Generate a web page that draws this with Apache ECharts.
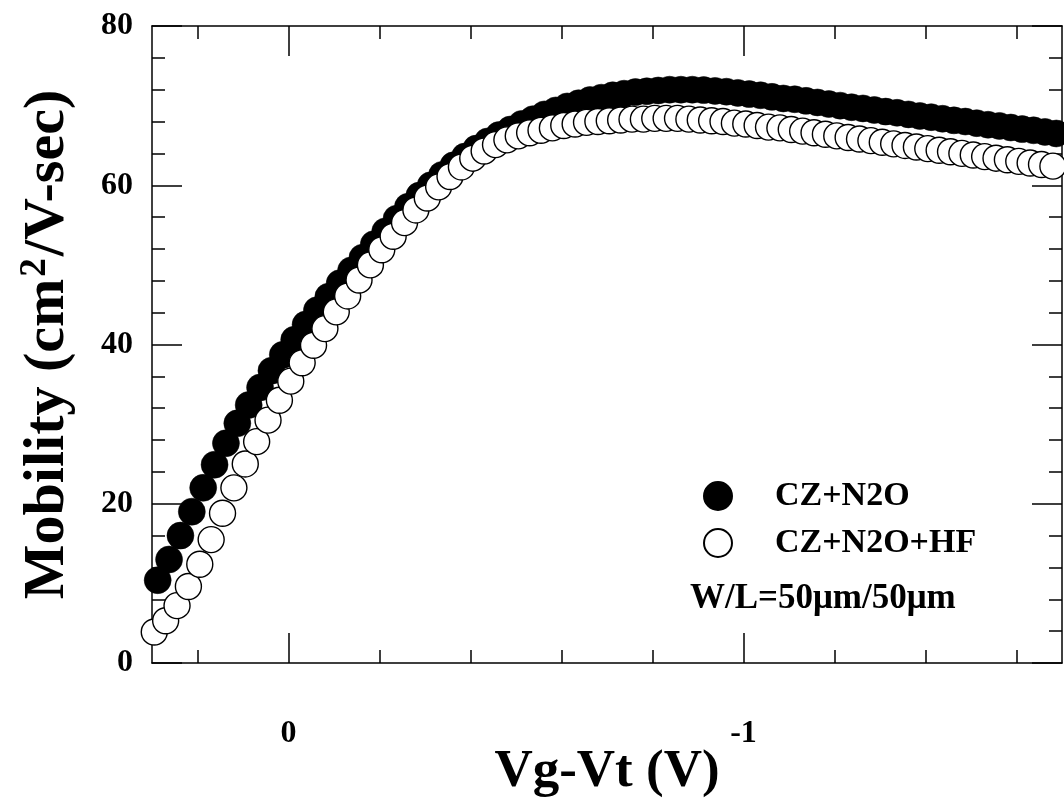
<!DOCTYPE html>
<html>
<head>
<meta charset="utf-8">
<script src="https://cdn.jsdelivr.net/npm/echarts@6/dist/echarts.min.js"></script>
<style>
  html, body { margin: 0; padding: 0; background: #fff; }
  #chart { width: 1064px; height: 809px; }
</style>
</head>
<body>
<div id="chart"></div>
<script>
// Gate overdrive Vg-Vt (V)
const vgFilled = [
  0.2875, 0.2625, 0.2375, 0.2125, 0.1875, 0.1625, 0.1375, 0.1125, 0.0875, 0.0625,
  0.0375, 0.0125, -0.0125, -0.0375, -0.0625, -0.0875, -0.1125, -0.1375, -0.1625, -0.1875,
  -0.2125, -0.2375, -0.2625, -0.2875, -0.3125, -0.3375, -0.3625, -0.3875, -0.4125, -0.4375,
  -0.4625, -0.4875, -0.5125, -0.5375, -0.5625, -0.5875, -0.6125, -0.6375, -0.6625, -0.6875,
  -0.7125, -0.7375, -0.7625, -0.7875, -0.8125, -0.8375, -0.8625, -0.8875, -0.9125, -0.9375,
  -0.9625, -0.9875, -1.0125, -1.0375, -1.0625, -1.0875, -1.1125, -1.1375, -1.1625, -1.1875,
  -1.2125, -1.2375, -1.2625, -1.2875, -1.3125, -1.3375, -1.3625, -1.3875, -1.4125, -1.4375,
  -1.4625, -1.4875, -1.5125, -1.5375, -1.5625, -1.5875, -1.6125, -1.6375, -1.6625, -1.6875
];
// Mobility, CZ+N2O (cm2/V-sec)
const muFilled = [
  10.4, 13.0, 16.0, 19.0, 22.0, 24.9, 27.6, 30.1, 32.4, 34.6,
  36.7, 38.7, 40.6, 42.5, 44.3, 46.0, 47.7, 49.3, 50.9, 52.6,
  54.2, 55.8, 57.3, 58.7, 60.0, 61.3, 62.5, 63.6, 64.6, 65.5,
  66.3, 67.0, 67.7, 68.3, 68.9, 69.4, 69.9, 70.3, 70.7, 71.0,
  71.3, 71.5, 71.7, 71.8, 71.9, 72.0, 72.0, 72.0, 71.95, 71.85,
  71.75, 71.6, 71.45, 71.3, 71.1, 70.9, 70.8, 70.6, 70.4, 70.2,
  70.0, 69.8, 69.65, 69.45, 69.25, 69.1, 68.9, 68.7, 68.55, 68.35,
  68.15, 68.0, 67.8, 67.6, 67.45, 67.25, 67.05, 66.9, 66.7, 66.5
];
const vgOpen = [
  0.295, 0.270, 0.245, 0.220, 0.195, 0.170, 0.145, 0.120, 0.095, 0.070,
  0.045, 0.020, -0.005, -0.030, -0.055, -0.080, -0.105, -0.130, -0.155, -0.180,
  -0.205, -0.230, -0.255, -0.280, -0.305, -0.330, -0.355, -0.380, -0.405, -0.430,
  -0.455, -0.480, -0.505, -0.530, -0.555, -0.580, -0.605, -0.630, -0.655, -0.680,
  -0.705, -0.730, -0.755, -0.780, -0.805, -0.830, -0.855, -0.880, -0.905, -0.930,
  -0.955, -0.980, -1.005, -1.030, -1.055, -1.080, -1.105, -1.130, -1.155, -1.180,
  -1.205, -1.230, -1.255, -1.280, -1.305, -1.330, -1.355, -1.380, -1.405, -1.430,
  -1.455, -1.480, -1.505, -1.530, -1.555, -1.580, -1.605, -1.630, -1.655, -1.680
];
// Mobility, CZ+N2O+HF (cm2/V-sec)
const muOpen = [
  3.9, 5.3, 7.2, 9.6, 12.4, 15.5, 18.8, 22.0, 25.0, 27.8,
  30.5, 33.0, 35.4, 37.7, 39.9, 42.0, 44.1, 46.1, 48.1, 50.0,
  51.9, 53.6, 55.3, 56.9, 58.4, 59.8, 61.1, 62.3, 63.4, 64.3,
  65.1, 65.7, 66.2, 66.6, 66.9, 67.2, 67.5, 67.7, 67.9, 68.0,
  68.1, 68.2, 68.3, 68.3, 68.4, 68.4, 68.4, 68.3, 68.2, 68.1,
  68.0, 67.8, 67.7, 67.5, 67.3, 67.2, 67.0, 66.8, 66.6, 66.4,
  66.2, 66.0, 65.8, 65.6, 65.4, 65.2, 65.0, 64.8, 64.6, 64.4,
  64.2, 64.0, 63.8, 63.6, 63.4, 63.2, 63.0, 62.8, 62.6, 62.4
];

const seriesNames = ['CZ+N2O', 'CZ+N2O+HF'];
const xMajorTicks = [0, -1];
const xMinorTicks = [0.2, -0.2, -0.4, -0.6, -0.8, -1.2, -1.4, -1.6];
const yTicks = [0, 20, 40, 60, 80];
const deviceNote = 'W/L=50\u03bcm/50\u03bcm';

const FONT = '"Liberation Serif", "Times New Roman", serif';
const INK = '#000';

function zip(xs, ys) { return xs.map((x, i) => [x, ys[i]]); }

function xAxisOf(pos, ticks, len, opts) {
  return Object.assign({
    type: 'value', position: pos, min: -1.7, max: 0.3, inverse: true,
    axisLine: { show: true, onZero: false, lineStyle: { color: INK, width: 1.5 } },
    axisTick: { show: true, inside: true, length: len, customValues: ticks,
                lineStyle: { color: INK, width: 1.5 } },
    axisLabel: { show: false },
    splitLine: { show: false }
  }, opts || {});
}

function yAxisOf(pos, opts) {
  return Object.assign({
    type: 'value', position: pos, min: yTicks[0], max: yTicks[yTicks.length - 1], interval: 20,
    axisLine: { show: true, onZero: false, lineStyle: { color: INK, width: 1.5 } },
    axisTick: { show: true, inside: true, length: 30, lineStyle: { color: INK, width: 1.5 } },
    minorTick: { show: true, splitNumber: 5, length: 13, lineStyle: { color: INK, width: 1.5 } },
    axisLabel: { show: false },
    splitLine: { show: false }
  }, opts || {});
}

const chart = echarts.init(document.getElementById('chart'), null, { renderer: 'canvas' });

chart.setOption({
  animation: false,
  backgroundColor: '#fff',
  grid: { left: 152, top: 26, right: 2, bottom: 146, containLabel: false, outerBoundsMode: 'none' },
  xAxis: [
    xAxisOf('bottom', xMajorTicks, 30, {
      axisLabel: { show: true, customValues: xMajorTicks, margin: 55,
                   fontFamily: FONT, fontWeight: 'bold', fontSize: 32, color: INK },
      name: 'Vg-Vt (V)', nameLocation: 'middle', nameGap: 83, nameMoveOverlap: false,
      nameTextStyle: { fontFamily: FONT, fontWeight: 'bold', fontSize: 53, color: INK }
    }),
    xAxisOf('bottom', xMinorTicks, 13, { axisLine: { show: false, onZero: false } }),
    xAxisOf('top', xMajorTicks, 30),
    xAxisOf('top', xMinorTicks, 13, { axisLine: { show: false, onZero: false } })
  ],
  yAxis: [
    yAxisOf('left', {
      axisLabel: { show: true, margin: 19, fontFamily: FONT, fontWeight: 'bold', fontSize: 32, color: INK },
      name: '{t|Mobility (cm}{s|2}{t|/V-sec)}', nameLocation: 'middle', nameRotate: 90, nameGap: 73,
      nameMoveOverlap: false,
      nameTextStyle: {
        fontFamily: FONT, fontWeight: 'bold', fontSize: 58, color: INK,
        rich: {
          t: { fontFamily: FONT, fontWeight: 'bold', fontSize: 58, color: INK },
          s: { fontFamily: FONT, fontWeight: 'bold', fontSize: 37, color: INK, verticalAlign: 'top', padding: [0, 2, 25, 2] }
        }
      }
    }),
    yAxisOf('right')
  ],
  legend: {
    orient: 'vertical', left: 698, top: 474, itemWidth: 28, itemHeight: 28, itemGap: 13,
    icon: 'circle',
    textStyle: { fontFamily: FONT, fontWeight: 'bold', fontSize: 34, color: INK, padding: [0, 0, 0, 38] },
    data: seriesNames
  },
  graphic: [{
    type: 'text', left: 690, top: 581,
    style: { text: deviceNote, fontFamily: FONT, fontWeight: 'bold', fontSize: 35, fill: INK }
  }],
  series: [
    {
      name: seriesNames[0], type: 'scatter', xAxisIndex: 0, yAxisIndex: 0,
      symbol: 'circle', symbolSize: 27, clip: false,
      itemStyle: { color: INK, borderColor: INK, borderWidth: 0.5, opacity: 1 },
      data: zip(vgFilled, muFilled)
    },
    {
      name: seriesNames[1], type: 'scatter', xAxisIndex: 0, yAxisIndex: 0,
      symbol: 'circle', symbolSize: 26, clip: false,
      itemStyle: { color: '#fff', borderColor: INK, borderWidth: 1.4, opacity: 1 },
      data: zip(vgOpen, muOpen)
    }
  ]
});
</script>
</body>
</html>
